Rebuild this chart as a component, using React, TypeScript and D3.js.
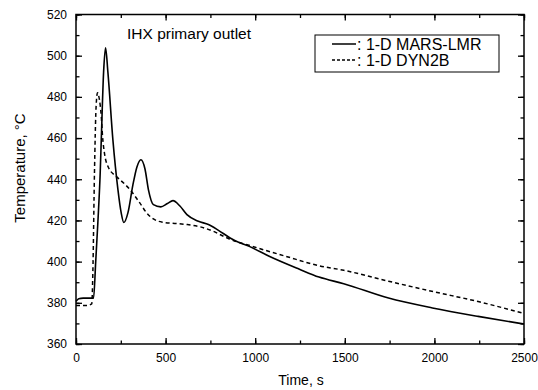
import React, { useEffect, useRef } from "react";
import * as d3 from "d3";

// MARS-LMR (solid)
const marsTime = [0, 15, 40, 98, 110, 122, 135, 141, 154, 165, 178, 206, 234, 252, 267, 290, 317, 340, 362, 385, 404, 432, 473, 510, 541, 580, 619, 683, 739, 795, 860, 907, 967, 1078, 1244, 1356, 1494, 1744, 1989, 2244, 2500];
const marsTemp = [380.7, 382, 382.3, 382.3, 400, 419, 443, 459, 492, 503.8, 492, 459, 435, 423.8, 419, 423.8, 437, 446, 449.5, 445, 435, 427.7, 426.6, 428.2, 429.6, 427, 422.8, 419.6, 418, 415.2, 411.5, 409.4, 407.4, 402.6, 396.4, 392.5, 389.3, 382.3, 377.5, 373.4, 369.7];

// DYN2B (dashed)
const dynTime = [0, 60, 88, 94, 103, 112, 120, 130, 141, 148, 160, 178, 224, 245, 301, 356, 394, 432, 487, 560, 619, 693, 767, 823, 856, 985, 1170, 1356, 1494, 1744, 1985, 2250, 2500];
const dynTemp = [378.7, 378.7, 379.5, 394.6, 443, 475, 482, 479, 470.6, 461, 452, 446.3, 441.4, 439.8, 435, 428.5, 423.7, 420.7, 419.1, 418.5, 418, 416.9, 414.7, 412.3, 411, 407.4, 402.6, 398, 395.8, 390.5, 385.6, 380.5, 374.8];

const xTicks = [0, 500, 1000, 1500, 2000, 2500];
const yTicks = [360, 380, 400, 420, 440, 460, 480, 500, 520];

const seriesNames = [": 1-D MARS-LMR", ": 1-D DYN2B"];

export default function App() {
  const ref = useRef<SVGSVGElement>(null);

  useEffect(() => {
    const root = d3.select(ref.current);
    root.selectAll("*").remove();

    const margin = { top: 14.5, right: 14, bottom: 46, left: 76 };
    const width = 538 - margin.left - margin.right;
    const height = 390 - margin.top - margin.bottom;
    const font = "'Liberation Sans', Arial, sans-serif";

    const svg = root
      .append("g")
      .attr("transform", `translate(${margin.left},${margin.top})`);

    const x = d3.scaleLinear().domain([0, 2500]).range([0, width]);
    const y = d3.scaleLinear().domain([360, 520]).range([height, 0]);

    const minorX = d3.range(0, 2501, 250);
    const minorY = d3.range(360, 521, 10);

    // axes, ticks pointing inward
    const addAxis = (axis, transform, labels) => {
      const g = svg.append("g").attr("transform", transform).call(axis);
      g.select(".domain").remove();
      g.selectAll("line").attr("stroke", "#000").attr("stroke-width", 1.3);
      g.selectAll("text")
        .style("font-family", font)
        .style("font-size", "12px")
        .attr("fill", "#000");
      if (!labels) g.selectAll("text").remove();
      return g;
    };

    // minor ticks
    addAxis(d3.axisBottom(x).tickValues(minorX).tickSize(-3.5), `translate(0,${height})`, false);
    addAxis(d3.axisTop(x).tickValues(minorX).tickSize(-3.5), "translate(0,0)", false);
    addAxis(d3.axisLeft(y).tickValues(minorY).tickSize(-3.5), "translate(0,0)", false);
    addAxis(d3.axisRight(y).tickValues(minorY).tickSize(-3.5), `translate(${width},0)`, false);

    // major ticks
    const bx = addAxis(d3.axisBottom(x).tickValues(xTicks).tickSize(-6).tickPadding(9).tickFormat(d3.format("d")), `translate(0,${height})`, true);
    addAxis(d3.axisTop(x).tickValues(xTicks).tickSize(-6), "translate(0,0)", false);
    addAxis(d3.axisLeft(y).tickValues(yTicks).tickSize(-6).tickPadding(9).tickFormat(d3.format("d")), "translate(0,0)", true);
    addAxis(d3.axisRight(y).tickValues(yTicks).tickSize(-6), `translate(${width},0)`, false);
    bx.selectAll("text").attr("dy", "0.71em");

    // frame
    svg
      .append("rect")
      .attr("width", width)
      .attr("height", height)
      .attr("fill", "none")
      .attr("stroke", "#000")
      .attr("stroke-width", 1.5);

    const marsPts = marsTime.map((t, i) => [x(t), y(marsTemp[i])] as [number, number]);
    const dynPts = dynTime.map((t, i) => [x(t), y(dynTemp[i])] as [number, number]);
    const path = d3.line().curve(d3.curveMonotoneX);

    svg
      .append("path")
      .attr("d", path(dynPts))
      .attr("fill", "none")
      .attr("stroke", "#000")
      .attr("stroke-width", 1.5)
      .attr("stroke-dasharray", "4,3");

    svg
      .append("path")
      .attr("d", path(marsPts))
      .attr("fill", "none")
      .attr("stroke", "#000")
      .attr("stroke-width", 1.6);

    // title inside plot
    svg
      .append("text")
      .attr("x", 127 - margin.left)
      .attr("y", 39 - margin.top)
      .style("font-family", font)
      .style("font-size", "15.5px")
      .text("IHX primary outlet");

    // legend
    const legend = svg.append("g").attr("transform", `translate(${315 - margin.left},${35 - margin.top})`);
    legend
      .append("rect")
      .attr("width", 184)
      .attr("height", 37)
      .attr("fill", "#fff")
      .attr("stroke", "#000")
      .attr("stroke-width", 1);
    seriesNames.forEach((name, i) => {
      legend
        .append("line")
        .attr("x1", 17)
        .attr("x2", 41)
        .attr("y1", 9 + i * 16)
        .attr("y2", 9 + i * 16)
        .attr("stroke", "#000")
        .attr("stroke-width", 1.5)
        .attr("stroke-dasharray", i === 0 ? null : "3,2");
      legend
        .append("text")
        .attr("x", 42)
        .attr("y", 14.5 + i * 16)
        .style("font-family", font)
        .style("font-size", "16px")
        .text(name);
    });

    // axis titles
    svg
      .append("text")
      .attr("x", 301 - margin.left)
      .attr("y", 385 - margin.top)
      .attr("text-anchor", "middle")
      .style("font-family", font)
      .style("font-size", "14px")
      .text("Time, s");

    svg
      .append("text")
      .attr("transform", "rotate(-90)")
      .attr("x", -(168 - margin.top))
      .attr("y", 25 - margin.left)
      .attr("text-anchor", "middle")
      .style("font-family", font)
      .style("font-size", "15px")
      .text("Temperature, °C");
  }, []);

  return (
    <svg
      ref={ref}
      width={538}
      height={390}
      style={{ position: "absolute", left: 0, top: 0, background: "#fff" }}
    />
  );
}
